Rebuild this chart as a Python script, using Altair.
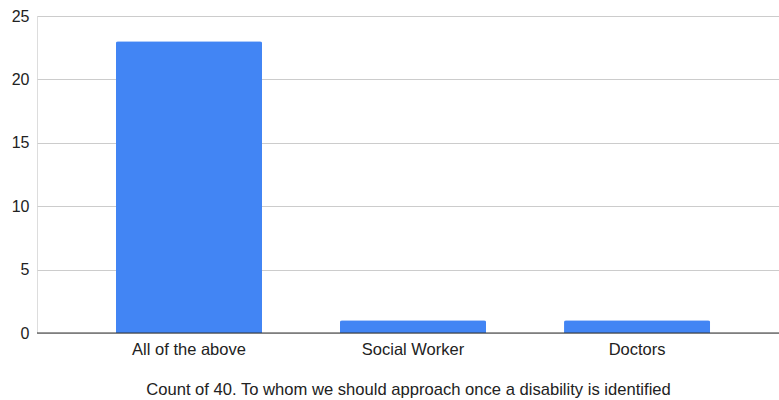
import altair as alt
import pandas as pd

categories = ["All of the above", "Social Worker", "Doctors"]
counts = [23, 1, 1]

df = pd.DataFrame({"category": categories, "count": counts})

font = "Liberation Sans"

bars = alt.Chart(df).mark_bar(color="#4285F4", cornerRadiusTopLeft=2, cornerRadiusTopRight=2).encode(
    x=alt.X("category:N", sort=categories,
            scale=alt.Scale(paddingInner=0.348, paddingOuter=0.33, align=0.534),
            axis=alt.Axis(title="Count of 40. To whom we should approach once a disability is identified",
                          labelAngle=0, labelFontSize=16.5, labelColor="#222222", labelFont=font,
                          titleFontSize=16.6, titleFont=font, titleColor="#222222", titleFontWeight="normal",
                          titlePadding=23.5, labelPadding=8, ticks=False, domain=False)),
    y=alt.Y("count:Q", scale=alt.Scale(domain=[0, 25], nice=False),
            axis=alt.Axis(title=None, values=[0, 5, 10, 15, 20, 25], labelFontSize=16, labelFont=font,
                          labelColor="#222222", labelPadding=8, ticks=False, domain=False,
                          gridColor="#cccccc", gridWidth=1)),
)

zero = alt.Chart(pd.DataFrame({"v": [0]})).mark_rule(color="#333333", strokeWidth=1).encode(y="v:Q")

chart = alt.layer(bars, zero).properties(
    width=742, height=317,
    autosize=alt.AutoSizeParams(type="none"),
    padding={"left": 37, "top": 16, "right": 0, "bottom": 67},
).configure_view(stroke=None).configure(background="white")

chart.save("out.html", embed_options={"renderer": "svg", "actions": False})
